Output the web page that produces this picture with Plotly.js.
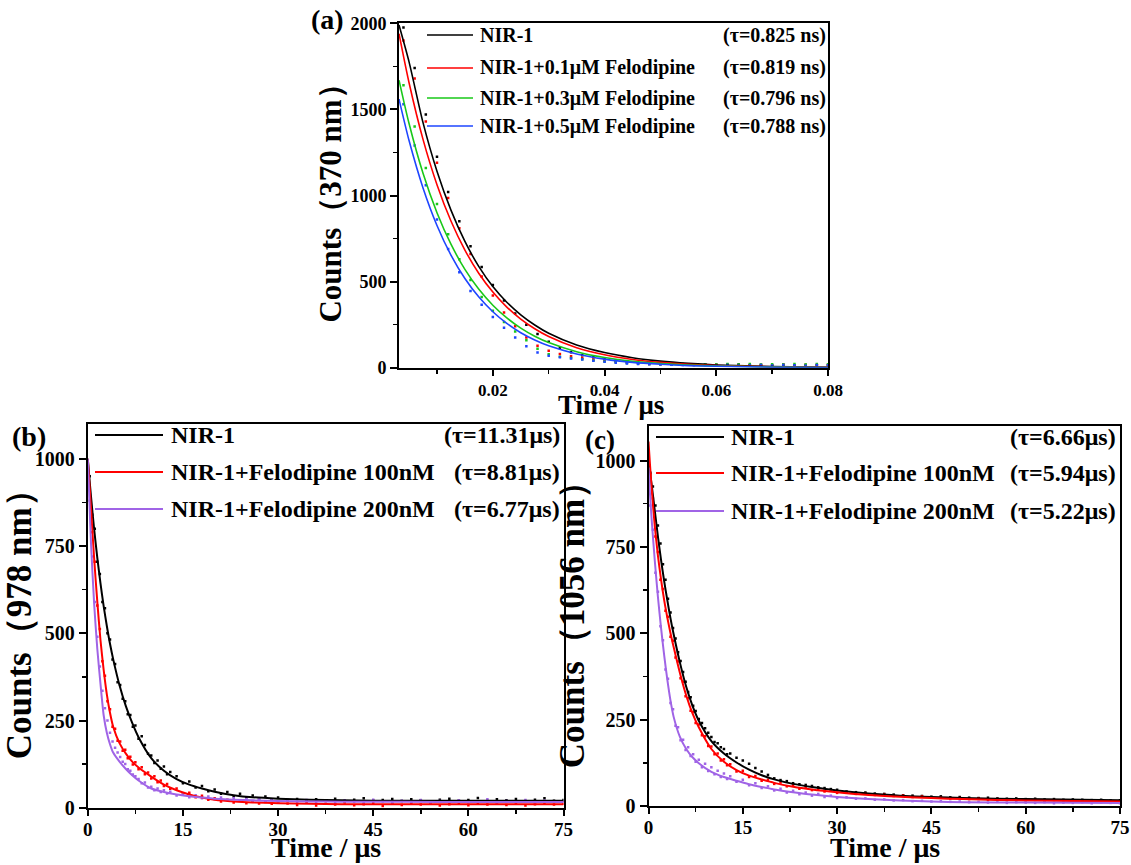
<!DOCTYPE html>
<html><head><meta charset="utf-8">
<script src="https://cdn.plot.ly/plotly-3.0.1.min.js"></script>
<style>html,body{margin:0;padding:0;background:#fff}#chart{width:1131px;height:865px}</style>
</head><body><div id="chart"></div>
<script>
// ================= DATA =================
// Panel (a): 370 nm, time in μs
const seriesA = ['NIR-1', 'NIR-1+0.1μM Felodipine', 'NIR-1+0.3μM Felodipine', 'NIR-1+0.5μM Felodipine'];
const tauA = ['(τ=0.825 ns)', '(τ=0.819 ns)', '(τ=0.796 ns)', '(τ=0.788 ns)'];
const tA_fit = [0.0032,0.005,0.0075,0.01,0.0125,0.015,0.0175,0.02,0.0225,0.025,0.0275,0.03,0.035,0.04,0.045,0.05,0.055,0.06,0.07,0.08];
const aFit_NIR1 = [1990,1776,1423,1141,915,733,587,471,380,307,248,200,132,88,58,38,25,16,7,3];
const aFit_01   = [1940,1655,1326,1063,852,683,547,439,352,282,226,181,116,75,48,31,20,13,5,2];
const aFit_03   = [1670,1418,1129,900,717,571,455,363,289,230,183,146,93,59,37,24,15,10,4,1];
const aFit_05   = [1560,1319,1044,826,654,518,410,325,257,203,161,127,80,50,31,20,12,8,3,1];
const tA_pts = [0.004,0.006,0.008,0.010,0.012,0.014,0.016,0.018,0.020,0.022,0.024,0.026,0.028,0.030,0.032,0.034,0.036,0.038,0.040,0.042,0.044,0.046,0.048,0.050,0.052,0.054,0.056,0.058,0.060,0.062,0.064,0.066,0.068,0.070,0.072,0.074,0.076,0.078,0.080];
const aPts_NIR1 = [1975,1740,1470,1225,1020,850,705,585,480,390,315,250,195,150,115,90,72,60,50,42,36,31,27,24,22,20,19,18,17,15,18,14,16,13,17,12,15,14,16];
const aPts_01   = [1900,1680,1430,1190,985,810,660,530,420,320,240,175,128,98,80,66,56,47,40,34,29,25,22,20,18,17,16,18,15,17,14,16,15,13,17,14,16,15,14];
const aPts_03   = [1640,1400,1160,950,775,630,510,410,330,265,210,160,110,78,64,56,49,42,36,31,27,24,22,20,19,21,18,20,19,22,18,21,19,20,18,22,19,21,20];
const aPts_05   = [1530,1290,1060,860,690,555,445,365,295,232,175,124,88,70,61,54,47,40,34,29,25,22,20,18,17,16,15,16,14,15,13,14,16,13,15,14,12,15,14];

// Panels (b) 978 nm and (c) 1056 nm, time in μs
const seriesBC = ['NIR-1', 'NIR-1+Felodipine 100nM', 'NIR-1+Felodipine 200nM'];
const tauB = ['(τ=11.31μs)', '(τ=8.81μs)', '(τ=6.77μs)'];
const tauC = ['(τ=6.66μs)', '(τ=5.94μs)', '(τ=5.22μs)'];
const tBC_fit = [0,0.25,0.5,1,1.5,2,2.5,3,3.5,4,5,6,7,8,10,12,14,16,18,20,23,26,30,35,40,45,50,60,75];
const bFit_NIR1 = [1000,945,893,799,716,643,578,521,470,426,351,291,243,202,142,106,82,66,55,46,36,30,26,23,21,20,20,20,20];
const bFit_100  = [1000,930,860,715,590,480,395,325,272,232,185,155,132,115,89,66,50,38,29,23,18,15,13,11,10,10,10,10,10];
const bFit_200  = [1000,880,760,585,455,355,265,215,182,158,132,111,93,78,55,45,38,33,29,26,23,21,19,18,17,17,17,16,16];
const cFit_NIR1 = [1000,965,930,855,780,712,650,595,543,497,415,345,290,247,188,152,126,105,89,77,64,55,45,36,30,26,23,20,17];
const cFit_100  = [1055,985,920,810,725,655,595,545,500,460,385,320,268,228,165,128,104,88,77,67,56,48,40,32,27,23,20,16,13];
const cFit_200  = [980,900,830,710,605,515,435,365,305,258,200,165,141,124,99,84,73,63,55,48,40,33,26,20,16,13,11,10,9];
const tBC_pts = [0.3,0.7,1.1,1.5,1.9,2.3,2.7,3.1,3.5,3.9,4.3,4.7,5.1,5.5,5.9,6.3,6.7,7.1,7.5,
  8,8.5,9,9.5,10,10.5,11,11.5,12,12.5,13,
  14,15,16,17,18,19,20,21,22,23,24,25,26,27,28,29,30,
  31.5,33,34.5,36,37.5,39,40.5,42,43.5,45,46.5,48,49.5,51,52.5,54,55.5,57,58.5,60,61.5,63,64.5,66,67.5,69,70.5,72,73.5,75];
const bPts_NIR1 = [950,840,800,705,670,590,572,500,482,425,412,360,352,312,305,268,266,232,236,198,205,180,155,150,128,135,112,118,96,102,
  90,70,75,58,62,47,52,40,45,33,40,30,35,26,32,24,29,
  22,25,19,24,21,26,18,23,27,20,22,25,19,24,21,18,23,26,20,22,28,19,24,21,25,18,23,27,20,22];
const bPts_100 = [915,790,705,580,512,420,378,305,282,232,226,192,190,163,166,142,146,124,130,110,116,96,101,84,90,73,78,62,68,54,
  55,40,43,30,34,23,27,18,23,15,20,13,18,12,16,11,15,
  12,8,14,6,11,9,15,7,10,13,5,11,8,14,9,12,6,10,13,7,11,9,15,8,12,6,10,13,9,11];
const bPts_200 = [880,720,590,490,405,335,285,250,215,190,172,158,145,132,125,110,106,95,90,82,70,72,58,60,50,55,45,50,41,46,
  35,40,30,36,27,32,24,29,22,27,20,25,19,24,18,23,17,
  20,14,22,16,19,13,21,17,15,23,18,14,20,16,22,13,19,17,21,15,18,24,14,19,16,22,15,20,17,18];
const cPts_NIR1 = [965,925,870,812,760,700,655,600,560,515,485,445,420,388,360,330,315,290,275,252,240,225,212,200,185,182,170,165,150,152,
  140,132,122,110,100,90,80,75,72,66,63,61,58,54,52,49,47,
  42,40,39,36,35,33,31,30,29,27,28,25,26,24,23,24,22,21,22,20,21,19,20,18,19,18,17,18,16,17];
const cPts_100 = [960,890,780,735,655,628,565,548,490,478,430,418,370,360,318,312,276,272,240,236,205,202,174,172,150,152,132,135,118,121,
  100,102,84,87,73,76,64,68,57,60,50,55,46,50,42,45,38,
  39,35,36,32,33,29,30,26,28,24,25,22,23,20,22,18,20,17,19,16,18,15,17,14,16,13,15,12,14,13];
const cPts_200 = [870,800,675,620,520,480,395,368,298,280,232,228,190,192,162,170,145,150,128,134,112,122,101,112,92,102,84,94,78,86,
  70,76,60,66,52,57,45,50,39,44,34,39,30,35,26,30,23,
  25,21,22,18,19,16,17,14,15,13,14,12,13,11,12,10,12,9,11,10,9,11,8,10,9,11,8,10,9,8];

// ================= STYLE =================
const W = 1131, H = 865;
const FONT = "'Liberation Serif', 'Times New Roman', serif";
const colA = ['#000000', '#FF0000', '#19C819', '#1E46FF'];
const colBC = ['#000000', '#FF0000', '#A064E6'];
const fx = px => px / W;
const fy = py => 1 - py / H;

const traces = [];
function addPanel(xa, ya, tFit, fits, tPts, pts, names, cols, lw, ms) {
  pts.forEach((p, i) => traces.push({
    type: 'scatter', mode: 'markers', x: tPts, y: p, xaxis: xa, yaxis: ya,
    name: names[i] + ' data', showlegend: false,
    marker: {color: cols[i], size: ms, symbol: 'square'}
  }));
  fits.forEach((f, i) => traces.push({
    type: 'scatter', mode: 'lines', x: tFit, y: f, xaxis: xa, yaxis: ya,
    name: names[i], showlegend: false,
    line: {color: cols[i], width: lw, shape: 'spline', smoothing: 0.7}
  }));
}
addPanel('x', 'y', tA_fit, [aFit_NIR1, aFit_01, aFit_03, aFit_05], tA_pts, [aPts_NIR1, aPts_01, aPts_03, aPts_05], seriesA, colA, 1.6, 2.5);
addPanel('x2', 'y2', tBC_fit, [bFit_NIR1, bFit_100, bFit_200], tBC_pts, [bPts_NIR1, bPts_100, bPts_200], seriesBC, colBC, 2, 2.5);
addPanel('x3', 'y3', tBC_fit, [cFit_NIR1, cFit_100, cFit_200], tBC_pts, [cPts_NIR1, cPts_100, cPts_200], seriesBC, colBC, 2, 2.5);

function axis(extra, tsize) {
  return Object.assign({
    showline: true, linecolor: '#000', linewidth: 2, mirror: true,
    ticks: 'outside', ticklen: 7, tickwidth: 2, tickcolor: '#000',
    showgrid: false, zeroline: false, fixedrange: true,
    tickfont: {family: FONT, size: tsize, color: '#000', weight: 'bold'}
  }, extra);
}
function ttl(text, size, standoff) {
  return {text: text, font: {family: FONT, size: size, color: '#000', weight: 'bold'}, standoff: standoff};
}
const minorTick = d => ({dtick: d, ticks: 'outside', ticklen: 4, tickwidth: 1.5, tickcolor: '#000'});

const shapes = [], annotations = [];
function ann(text, px, py, xanchor, size) {
  annotations.push({text: text, x: fx(px), y: fy(py), xref: 'paper', yref: 'paper',
    xanchor: xanchor, yanchor: 'middle', showarrow: false, borderpad: 0,
    font: {family: FONT, size: size, color: '#000', weight: 'bold'}});
}
function legend(names, taus, cols, ys, x0, x1, xt, xr, size, lw) {
  names.forEach((n, i) => {
    shapes.push({type: 'line', xref: 'paper', yref: 'paper', x0: fx(x0), x1: fx(x1), y0: fy(ys[i]), y1: fy(ys[i]),
      line: {color: cols[i], width: lw}});
    ann(n, xt, ys[i], 'left', size);
    ann(taus[i], xr, ys[i], 'right', size);
  });
}
legend(seriesA, tauA, colA, [35, 68, 98, 126], 427, 473, 479, 827, 20, 1.6);
legend(seriesBC, tauB, colBC, [435, 472, 509], 95, 163, 170, 561, 24, 2);
legend(seriesBC, tauC, colBC, [437, 473, 511], 656, 724, 730, 1117, 24, 2);
ann('(a)', 345, 20, 'right', 28);
ann('(b)', 29, 436, 'center', 28);
ann('(c)', 600, 440, 'center', 27);
// x-axis titles
ann('Time / μs', 611, 405, 'center', 27);
ann('Time / μs', 325.7, 847, 'center', 28);
ann('Time / μs', 884.5, 847, 'center', 28);

const layout = {
  width: W, height: H, margin: {l: 0, r: 0, t: 0, b: 0},
  paper_bgcolor: '#fff', plot_bgcolor: '#fff', showlegend: false,
  xaxis: axis({domain: [fx(399), fx(828)], range: [0.0032, 0.08], anchor: 'y', tick0: 0, dtick: 0.02, tickformat: '.2f',
    ticklen: 6, minor: Object.assign(minorTick(0.01), {tick0: 0})}, 17),
  yaxis: axis({domain: [fy(367.7), fy(23.3)], range: [0, 2000], anchor: 'x', dtick: 500,
    minor: minorTick(250), title: ttl('Counts（370 nm）', 31, 0)}, 18),
  xaxis2: axis({domain: [fx(87.8), fx(563.5)], range: [0, 75], anchor: 'y2', dtick: 15, ticklen: 6,
    ticklabelstandoff: -3, minor: minorTick(7.5)}, 19),
  yaxis2: axis({domain: [fy(807.7), fy(424)], range: [0, 1100], anchor: 'x2', dtick: 250,
    minor: minorTick(125), title: ttl('Counts（978 nm）', 35, 0)}, 20),
  xaxis3: axis({domain: [fx(648.5), fx(1120)], range: [0, 75], anchor: 'y3', dtick: 15, ticklen: 6,
    ticklabelstandoff: -3, minor: minorTick(7.5)}, 19),
  yaxis3: axis({domain: [fy(806), fy(426)], range: [0, 1100], anchor: 'x3', dtick: 250,
    minor: minorTick(125), title: ttl('Counts（1056 nm）', 35, 0)}, 20),
  shapes: shapes, annotations: annotations
};
Plotly.newPlot('chart', traces, layout, {displayModeBar: false, staticPlot: true});
</script>
</body></html>
